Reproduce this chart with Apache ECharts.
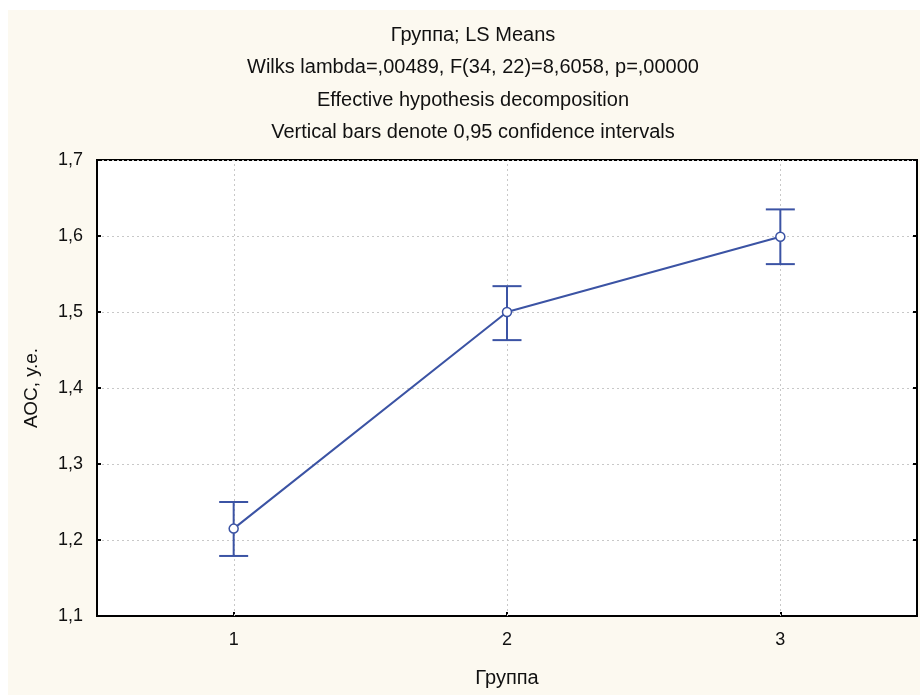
<!DOCTYPE html>
<html><head><meta charset="utf-8">
<script src="https://cdn.jsdelivr.net/npm/echarts@6/dist/echarts.min.js"></script>
<style>html,body{margin:0;padding:0;background:#fff;}#c{position:absolute;left:8px;top:10px;width:912px;height:685px;}</style>
</head><body><div id="c"></div>
<script>
const categories = ['1', '2', '3'];
const means = [1.215, 1.5, 1.599];
const lower = [1.179, 1.463, 1.563];
const upper = [1.250, 1.534, 1.635];
const yTicks = ['1,1', '1,2', '1,3', '1,4', '1,5', '1,6', '1,7'];
const titleLines = ['Группа; LS Means', 'Wilks lambda=,00489, F(34, 22)=8,6058, p=,00000', 'Effective hypothesis decomposition', 'Vertical bars denote 0,95 confidence intervals'];

const blue = '#3b53a4';
const gridGray = '#c8c8c8';
const font = 'Liberation Sans, Arial, sans-serif';
const chart = echarts.init(document.getElementById('c'));
const errData = categories.map((c, i) => [i, lower[i], upper[i]]);
const vData = categories.map((c, i) => [i, 1.1, 1.7]);
chart.setOption({
  backgroundColor: '#fcf9f0',
  animation: false,
  title: titleLines.map((t, i) => ({
    text: t, left: 460, top: 10 + i * 32.5, textAlign: 'center',
    textStyle: { fontFamily: font, fontSize: 20, fontWeight: 'normal', color: '#111' }
  })),
  grid: { left: 89, top: 150, right: 3, bottom: 79, show: true, backgroundColor: '#fff', borderColor: '#000', borderWidth: 2 },
  xAxis: {
    type: 'category', data: categories, boundaryGap: true,
    name: 'Группа', nameLocation: 'middle', nameGap: 52,
    nameTextStyle: { fontFamily: font, fontSize: 20, color: '#111' },
    axisLine: { show: true, lineStyle: { color: '#000', width: 2 } },
    axisTick: { show: true, inside: true, alignWithLabel: true, length: 4, lineStyle: { color: '#000', width: 2 } },
    axisLabel: { fontFamily: font, fontSize: 18, color: '#111', margin: 15 },
    splitLine: { show: false }
  },
  yAxis: [{
    type: 'value', min: 1.1, max: 1.7, interval: 0.1,
    name: 'АОС, у.е.', nameLocation: 'middle', nameGap: 56, nameRotate: 90,
    nameTextStyle: { fontFamily: font, fontSize: 19, color: '#111' },
    axisLine: { show: true, lineStyle: { color: '#000', width: 2 } },
    axisTick: { show: true, inside: true, length: 4, lineStyle: { color: '#000', width: 2 } },
    axisLabel: { fontFamily: font, fontSize: 18, color: '#111', margin: 14, formatter: (v) => { const i = Math.round((v - 1.1) * 10); return yTicks[i]; } },
    splitLine: { show: true, lineStyle: { color: gridGray, type: [2, 3], width: 1 } }
  }, {
    type: 'value', min: 1.1, max: 1.7, interval: 0.1, position: 'right',
    axisLine: { show: true, lineStyle: { color: '#000', width: 2 } },
    axisTick: { show: true, inside: true, length: 4, lineStyle: { color: '#000', width: 2 } },
    axisLabel: { show: false }, splitLine: { show: false }
  }],
  series: [
    {
      type: 'custom', z: 1, silent: true, data: vData,
      renderItem: function (params, api) {
        const a = api.coord([api.value(0), api.value(1)]);
        const b = api.coord([api.value(0), api.value(2)]);
        const x = Math.round(a[0]) + 0.5;
        return { type: 'line', shape: { x1: x, y1: a[1], x2: x, y2: b[1] }, style: { stroke: gridGray, lineWidth: 1, lineDash: [2, 3] } };
      }
    },
    {
      type: 'custom', z: 3, silent: true, data: errData,
      renderItem: function (params, api) {
        const x = api.value(0);
        const lo = api.coord([x, api.value(1)]);
        const hi = api.coord([x, api.value(2)]);
        const hw = 14.5;
        const st = { stroke: blue, lineWidth: 2 };
        return { type: 'group', children: [
          { type: 'line', shape: { x1: lo[0], y1: lo[1], x2: hi[0], y2: hi[1] }, style: st },
          { type: 'line', shape: { x1: lo[0] - hw, y1: lo[1], x2: lo[0] + hw, y2: lo[1] }, style: st },
          { type: 'line', shape: { x1: hi[0] - hw, y1: hi[1], x2: hi[0] + hw, y2: hi[1] }, style: st }
        ] };
      }
    },
    {
      type: 'line', data: means, z: 5,
      symbol: 'circle', symbolSize: 9,
      lineStyle: { color: blue, width: 2 },
      itemStyle: { color: '#fff', borderColor: blue, borderWidth: 1.5 }
    }
  ]
});
</script></body></html>
